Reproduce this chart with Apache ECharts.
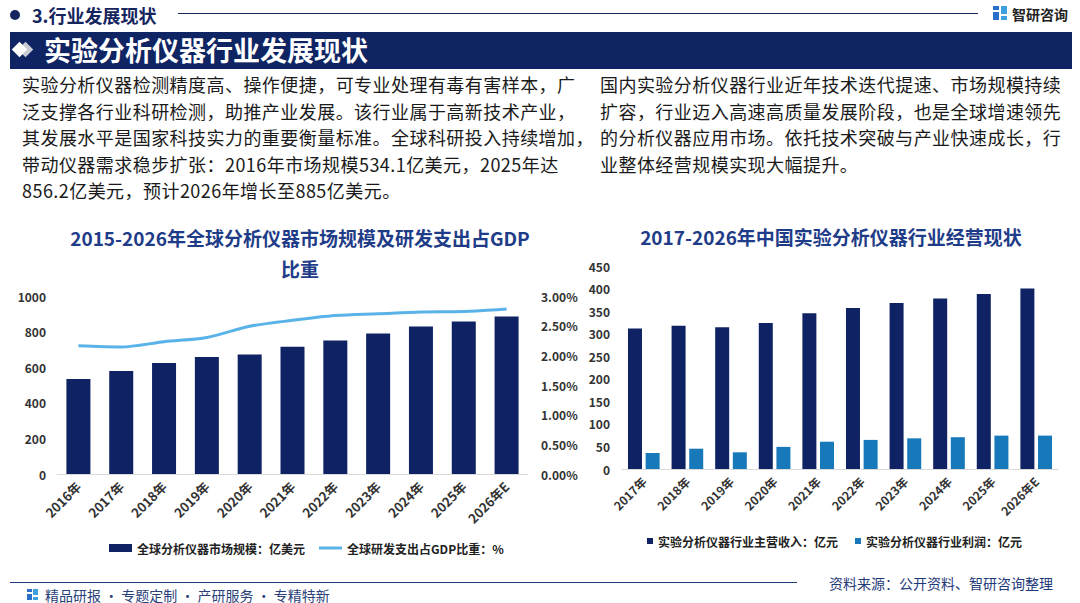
<!DOCTYPE html>
<html><head><meta charset="utf-8">
<script src="https://cdn.jsdelivr.net/npm/echarts@6/dist/echarts.min.js"></script>
<style>
html,body{margin:0;padding:0;width:1080px;height:603px;background:#fff;overflow:hidden;font-family:"Noto Sans CJK SC","Noto Sans",sans-serif;}
#chart{position:absolute;left:0;top:0;width:1080px;height:603px;}
.abs{position:absolute;white-space:nowrap;}
.para{font-size:18px;line-height:26.5px;color:#1a1a1a;letter-spacing:0.45px;}
</style></head>
<body>
<div id="chart"></div>
<!-- header -->
<div class="abs" style="left:10px;top:10px;width:10px;height:10px;border-radius:50%;background:#15255e;"></div>
<div class="abs" style="left:32px;top:2px;font-size:18px;font-weight:bold;color:#15255e;line-height:26px;">3.行业发展现状</div>
<div class="abs" style="left:178px;top:13px;width:800px;height:1px;background:#15255e;"></div>
<div class="abs" style="left:993px;top:6px;width:6px;height:4px;background:#2a6fc9;"></div>
<div class="abs" style="left:1001px;top:6px;width:6px;height:8px;background:#3fa0e0;"></div>
<div class="abs" style="left:993px;top:12px;width:6px;height:8px;background:#2a6fc9;"></div>
<div class="abs" style="left:1001px;top:16px;width:6px;height:4px;background:#3fa0e0;"></div>
<div class="abs" style="left:1012px;top:3px;font-size:14px;font-weight:bold;color:#222;line-height:22px;">智研咨询</div>
<!-- banner -->
<div class="abs" style="left:10px;top:32px;width:1062px;height:37px;background:#0f2463;"></div>
<div class="abs" style="left:20px;top:44px;width:11px;height:11px;background:#c9cbd3;transform:rotate(45deg);"></div>
<div class="abs" style="left:14px;top:44px;width:11px;height:11px;background:#ffffff;transform:rotate(45deg);"></div>
<div class="abs" style="left:44px;top:31px;font-size:27px;font-weight:bold;color:#fff;line-height:38px;">实验分析仪器行业发展现状</div>
<!-- paragraphs -->
<div class="abs para" style="left:22px;top:71px;">实验分析仪器检测精度高、操作便捷，可专业处理有毒有害样本，广<br>泛支撑各行业科研检测，助推产业发展。该行业属于高新技术产业，<br>其发展水平是国家科技实力的重要衡量标准。全球科研投入持续增加，<br>带动仪器需求稳步扩张：2016年市场规模534.1亿美元，2025年达<br>856.2亿美元，预计2026年增长至885亿美元。</div>
<div class="abs para" style="left:600px;top:71px;">国内实验分析仪器行业近年技术迭代提速、市场规模持续<br>扩容，行业迈入高速高质量发展阶段，也是全球增速领先<br>的分析仪器应用市场。依托技术突破与产业快速成长，行<br>业整体经营规模实现大幅提升。</div>
<!-- footer -->
<div class="abs" style="left:10px;top:582px;width:787px;height:1px;background:#1f3a7a;"></div>
<div class="abs" style="left:829px;top:572px;font-size:14px;color:#1f3a7a;line-height:22px;">资料来源：公开资料、智研咨询整理</div>
<div class="abs" style="left:27px;top:589px;width:5px;height:3px;background:#2a6fc9;"></div>
<div class="abs" style="left:33px;top:589px;width:5px;height:6px;background:#3fa0e0;"></div>
<div class="abs" style="left:27px;top:594px;width:5px;height:6px;background:#2a6fc9;"></div>
<div class="abs" style="left:33px;top:597px;width:5px;height:3px;background:#3fa0e0;"></div>
<div class="abs" style="left:45px;top:585px;font-size:14px;color:#2a3f7a;line-height:20px;">精品研报 · 专题定制 · 产研服务 · 专精特新</div>
<script>
const globalYears = ['2016年','2017年','2018年','2019年','2020年','2021年','2022年','2023年','2024年','2025年','2026年E'];
const globalMarket = [534.1, 578, 623, 657, 672, 715, 750, 789, 828, 856.2, 885];
const rdGdpShare = [2.16, 2.14, 2.23, 2.30, 2.49, 2.59, 2.67, 2.70, 2.73, 2.74, 2.78];
const chinaYears = ['2017年','2018年','2019年','2020年','2021年','2022年','2023年','2024年','2025年','2026年E'];
const chinaRevenue = [311.5, 317.5, 314, 323.5, 345, 357, 368, 378, 388, 400];
const chinaProfit = [35.5, 45, 37, 49, 60.5, 64.5, 68, 70.5, 74, 74];
const leftTicks = [0, 200, 400, 600, 800, 1000];

const navy = '#0f2264', lightLine = '#5ab3e8', profitBlue = '#1879ba';
const titleColor = '#1f3c88';
const axisLabel = {color:'#333', fontSize:12, fontWeight:'bold', fontFamily:'Noto Sans CJK SC'};
const legendText = {color:'#222', fontSize:12, fontWeight:'bold'};

const chart = echarts.init(document.getElementById('chart'), null, {renderer:'svg'});
chart.setOption({
  animation:false,
  textStyle:{fontFamily:'Noto Sans CJK SC'},
  title:[
    {text:'2015-2026年全球分析仪器市场规模及研发支出占GDP\n比重', left:295, top:217, textAlign:'center',
     textStyle:{color:titleColor, fontSize:19, fontWeight:'bold', lineHeight:31}},
    {text:'2017-2026年中国实验分析仪器行业经营现状', left:826, top:222, textAlign:'center',
     textStyle:{color:titleColor, fontSize:19, fontWeight:'bold'}}
  ],
  legend:[
    {left:104, top:537, itemWidth:23, itemHeight:8, textStyle:legendText,
     data:[{name:'全球分析仪器市场规模：亿美元', icon:'rect'}]},
    {left:314, top:537, itemWidth:23, itemHeight:3, icon:'rect', textStyle:legendText,
     data:['全球研发支出占GDP比重：%']},
    {left:642, top:530, itemWidth:6, itemHeight:6, itemGap:17, icon:'rect', textStyle:legendText,
     data:['实验分析仪器行业主营收入：亿元','实验分析仪器行业利润：亿元']}
  ],
  grid:[
    {left:57, right:552, top:296, bottom:129},
    {left:622, right:22, top:266, bottom:134}
  ],
  xAxis:[
    {type:'category', gridIndex:0, data:globalYears,
     axisLine:{lineStyle:{color:'#d9d9d9'}}, axisTick:{show:false},
     axisLabel:Object.assign({}, axisLabel, {rotate:45, interval:0, margin:10, fontSize:13})},
    {type:'category', gridIndex:1, data:chinaYears,
     axisLine:{lineStyle:{color:'#d9d9d9'}}, axisTick:{show:false},
     axisLabel:Object.assign({rotate:45, interval:0, margin:10}, axisLabel)}
  ],
  yAxis:[
    {type:'value', gridIndex:0, min:leftTicks[0], max:leftTicks[leftTicks.length-1], interval:200,
     splitLine:{show:false}, axisLine:{show:false}, axisTick:{show:false},
     axisLabel:Object.assign({margin:11, formatter:v=>String(v)}, axisLabel)},
    {type:'value', gridIndex:0, min:0, max:3, interval:0.5, position:'right',
     splitLine:{show:false}, axisLine:{show:false}, axisTick:{show:false},
     axisLabel:Object.assign({margin:13, formatter:v=>v.toFixed(2)+'%'}, axisLabel)},
    {type:'value', gridIndex:1, min:0, max:450, interval:50,
     splitLine:{show:false}, axisLine:{show:false}, axisTick:{show:false},
     axisLabel:Object.assign({margin:12}, axisLabel)}
  ],
  series:[
    {name:'全球分析仪器市场规模：亿美元', type:'bar', xAxisIndex:0, yAxisIndex:0, data:globalMarket,
     barWidth:24, itemStyle:{color:navy}},
    {name:'全球研发支出占GDP比重：%', type:'line', xAxisIndex:0, yAxisIndex:1, data:rdGdpShare,
     smooth:0.3, symbol:'none', lineStyle:{color:lightLine, width:3}, itemStyle:{color:lightLine}},
    {name:'实验分析仪器行业主营收入：亿元', type:'bar', xAxisIndex:1, yAxisIndex:2, data:chinaRevenue,
     barWidth:14, barGap:'26%', itemStyle:{color:navy}},
    {name:'实验分析仪器行业利润：亿元', type:'bar', xAxisIndex:1, yAxisIndex:2, data:chinaProfit,
     barWidth:14, barGap:'26%', itemStyle:{color:profitBlue}}
  ]
});
</script>
</body></html>
